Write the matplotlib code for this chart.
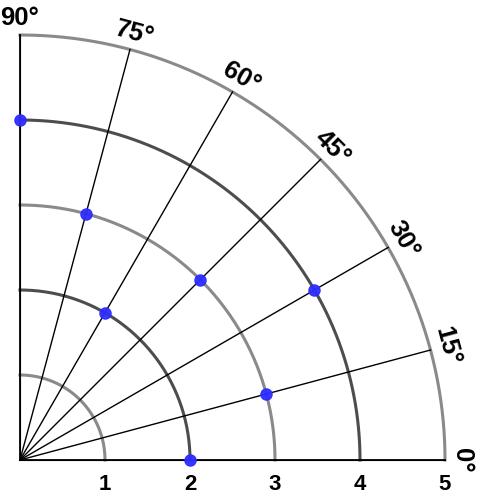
import numpy as np
import matplotlib.pyplot as plt
import matplotlib.transforms as mtrans

# Data
angles_deg = [0, 15, 30, 45, 60, 75, 90]
radii = [2, 3, 4, 3, 2, 3, 4]
ring_values = [1, 2, 3, 4, 5]
ring_colors = ['#8a8a8a', '#4d4d4d', '#8a8a8a', '#4d4d4d', '#8a8a8a']
angle_labels = ['0°', '15°', '30°', '45°', '60°', '75°', '90°']
radius_labels = ['1', '2', '3', '4', '5']

plt.rcParams['font.family'] = ['Liberation Sans', 'DejaVu Sans']

fig = plt.figure(figsize=(4.79, 4.99), dpi=100)
ax = fig.add_axes([20 / 479, 39 / 499, 425 / 479, 425 / 499], projection='polar')
ax.set_thetamin(0)
ax.set_thetamax(90)
ax.set_rlim(0, 5)
ax.grid(False)
ax.set_xticks([])
ax.set_yticks([])
for s in ax.spines.values():
    s.set_visible(False)

# rings
t = np.linspace(0, np.pi / 2, 200)
for rv, c in zip(ring_values, ring_colors):
    ax.plot(t, np.full_like(t, rv), color=c, lw=2.2, zorder=2, clip_on=False)

# spokes
for a in angles_deg:
    th = np.deg2rad(a)
    lw = 1.3 if a in (0, 90) else 1.0
    ax.plot([th, th], [0, 5], color='black', lw=lw, zorder=3, clip_on=False)

# points
ax.plot(np.deg2rad(angles_deg), radii, 'o', color='#2d2dff', ms=8,
        alpha=0.95, zorder=5, clip_on=False)

# angle labels
for a, lab in zip(angles_deg, angle_labels):
    ax.text(np.deg2rad(a), 5.2, lab, rotation=a - 90, ha='center', va='center',
            fontsize=18.5, fontweight='bold', rotation_mode='anchor')

# radius labels
shift = ax.transData + mtrans.ScaledTranslation(0, -0.25, fig.dpi_scale_trans)
for rv, lab in zip(ring_values, radius_labels):
    ax.text(0, rv, lab, ha='center', va='center', fontsize=16,
            fontweight='bold', transform=shift)

fig.savefig('out.png', dpi=100)
